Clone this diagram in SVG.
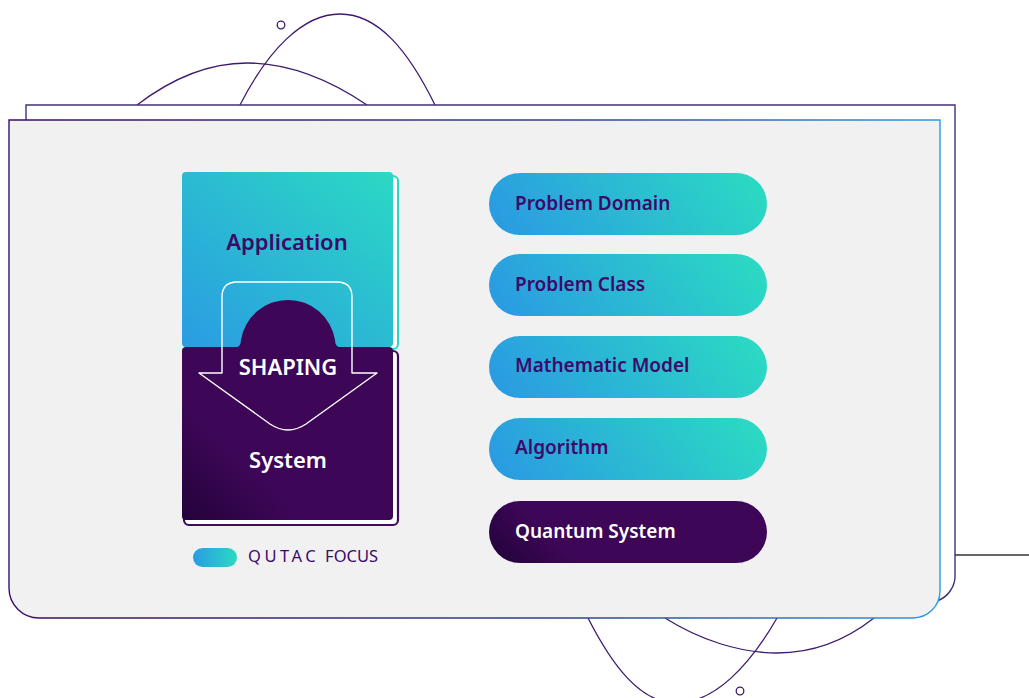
<svg xmlns="http://www.w3.org/2000/svg" width="1029" height="698" viewBox="0 0 1029 698">
  <defs>
    <linearGradient id="gTeal" x1="0" y1="1" x2="1" y2="0">
      <stop offset="0" stop-color="#2a9ce2"/>
      <stop offset="1" stop-color="#2bd9c3"/>
    </linearGradient>
    <linearGradient id="gPill" x1="0" y1="0.58" x2="1" y2="0.42">
      <stop offset="0" stop-color="#2a9ce2"/>
      <stop offset="1" stop-color="#2bd9c3"/>
    </linearGradient>
    <linearGradient id="gLegend" x1="0" y1="0.5" x2="1" y2="0.5">
      <stop offset="0" stop-color="#2a9ce2"/>
      <stop offset="1" stop-color="#2bd9c3"/>
    </linearGradient>
    <linearGradient id="gSystem" gradientUnits="userSpaceOnUse" x1="182" y1="520" x2="240" y2="462">
      <stop offset="0" stop-color="#22033a"/>
      <stop offset="1" stop-color="#3d0657"/>
    </linearGradient>
    <linearGradient id="gQuantum" gradientUnits="userSpaceOnUse" x1="492" y1="560" x2="532" y2="520">
      <stop offset="0" stop-color="#22033a"/>
      <stop offset="1" stop-color="#3d0657"/>
    </linearGradient>
    <linearGradient id="gFrame" x1="0" y1="0" x2="1" y2="0">
      <stop offset="0" stop-color="#3c0c68"/>
      <stop offset="0.6" stop-color="#33408f"/>
      <stop offset="1" stop-color="#2a9ae6"/>
    </linearGradient>
    <style>
      .orbit { fill: none; stroke: #3d1a6e; stroke-width: 1.3; }
      .dot { fill: #ffffff; stroke: #3d1a6e; stroke-width: 1.3; }
      .pill { fill: url(#gPill); }
      .pillDark { fill: url(#gQuantum); }
      .lbl { font-family: "Noto Sans", "Liberation Sans", sans-serif; font-weight: 600; font-size: 19px; fill: #3d0a6a; }
      .lblW { fill: #ffffff; }
      .big { font-family: "Noto Sans", "Liberation Sans", sans-serif; font-weight: 600; font-size: 22px; text-anchor: middle; }
    </style>
  </defs>

  <rect width="1029" height="698" fill="#ffffff"/>

  <!-- decorative orbits -->
  <g id="orbits">
    <path class="orbit" d="M137,105 C175,76 210,63 247,63 C290,63 330,80 367,105"/>
    <path class="orbit" d="M240,105 C268,50 303,14 340,14 C378,14 408,50 435,105"/>
    <circle class="dot" cx="281" cy="25" r="3.8"/>
    <path class="orbit" d="M588,618 C612,665 640,703 676,703 C715,703 750,665 777,618"/>
    <path class="orbit" d="M665,618 C700,640 740,653 777,653 C815,653 846,640 874,618"/>
    <circle class="dot" cx="740" cy="691" r="3.8"/>
    <line x1="955" y1="555" x2="1029" y2="555" stroke="#333333" stroke-width="1.3"/>
  </g>

  <!-- back sheet -->
  <path id="backSheet" d="M26,105 H955 V574 A27,27 0 0 1 937,601 L26,601 Z" fill="#ffffff" stroke="#433174" stroke-width="1.4"/>

  <!-- front sheet -->
  <path id="frontSheet" d="M9,120 H940 V591 A27,27 0 0 1 913,618 H39 A30,30 0 0 1 9,588 Z" fill="#f1f1f1" stroke="url(#gFrame)" stroke-width="1.4"/>

  <!-- Application card -->
  <g id="application">
    <rect x="185" y="176" width="213" height="173" rx="5" fill="#ffffff" stroke="#2bd6c4" stroke-width="2"/>
    <rect x="182" y="172" width="211" height="175" rx="4" fill="url(#gTeal)"/>
    <text class="big" x="287" y="250" fill="#3d0a6a">Application</text>
  </g>

  <!-- System card -->
  <g id="system">
    <rect x="184" y="351" width="214" height="174" rx="5" fill="#ffffff" stroke="#3d0a5e" stroke-width="2.2"/>
    <rect x="182" y="347" width="211" height="173" rx="4" fill="url(#gSystem)"/>
    <path d="M233,348 Q241,348 241,340 A47.6,47.6 0 0 1 335,340 Q335,348 343,348 Z" fill="#3d0657"/>
    <text class="big" x="288" y="468" fill="#ffffff">System</text>
  </g>

  <!-- shaping arrow -->
  <g id="shaping">
    <path d="M222,373 V297 Q222,282 237,282 H337 Q352,282 352,297 V373 H377 L306,424 Q288,436 270,424 L199,373 Z" fill="none" stroke="#ffffff" stroke-width="1.4" stroke-linejoin="round"/>
    <text class="big" x="288" y="375" fill="#ffffff" font-weight="700">SHAPING</text>
  </g>

  <!-- legend -->
  <g id="legend">
    <rect x="193" y="548" width="44" height="19" rx="9.5" fill="url(#gLegend)"/>
    <text x="248" y="562" font-family="'Noto Sans', 'Liberation Sans', sans-serif" font-size="16.5" fill="#3d0a6a"><tspan letter-spacing="3.5" font-weight="400">QUTAC</tspan><tspan dx="6">FOCUS</tspan></text>
  </g>

  <!-- stack of layers -->
  <g id="problemDomain">
    <rect class="pill" x="489" y="173" width="278" height="62" rx="31"/>
    <text class="lbl" x="515" y="210">Problem Domain</text>
  </g>
  <g id="problemClass">
    <rect class="pill" x="489" y="254" width="278" height="62" rx="31"/>
    <text class="lbl" x="515" y="291">Problem Class</text>
  </g>
  <g id="mathematicModel">
    <rect class="pill" x="489" y="336" width="278" height="62" rx="31"/>
    <text class="lbl" x="515" y="372">Mathematic Model</text>
  </g>
  <g id="algorithm">
    <rect class="pill" x="489" y="418" width="278" height="62" rx="31"/>
    <text class="lbl" x="515" y="454">Algorithm</text>
  </g>
  <g id="quantumSystem">
    <rect class="pillDark" x="489" y="501" width="278" height="62" rx="31"/>
    <text class="lbl lblW" x="515" y="538">Quantum System</text>
  </g>

  <g id="connectors"></g>
</svg>
